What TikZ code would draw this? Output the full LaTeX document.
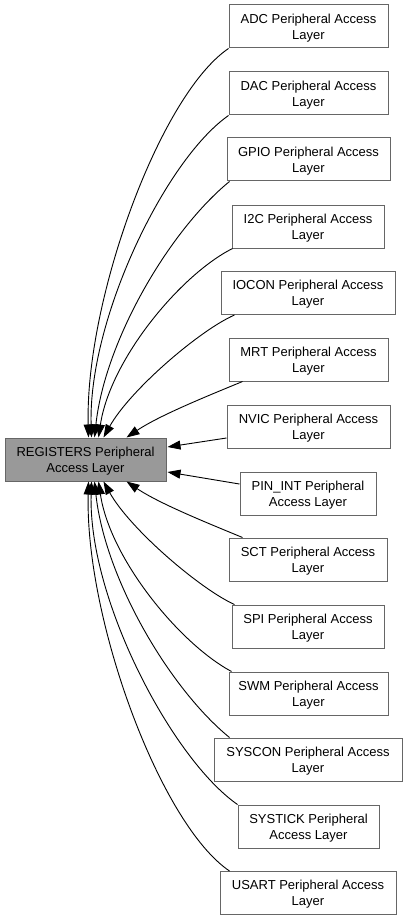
\documentclass[tikz,border=0pt]{standalone}
\usepackage{fontspec}
\setmainfont{Liberation Sans}
\usetikzlibrary{arrows.meta}
\definecolor{boxborder}{HTML}{666666}
\definecolor{curfill}{HTML}{999999}
\begin{document}
\begin{tikzpicture}[x=1pt,y=-1pt,
  box/.style={draw=boxborder, fill=white, line width=1pt, align=center, inner sep=0pt,
    minimum height=43pt, text depth=0pt, font=\fontsize{13}{16}\selectfont},
  cur/.style={box, fill=curfill},
  edge/.style={draw=black, line width=0.9pt, -{Triangle[length=13pt,width=9pt]}}]
\useasboundingbox (0,0) rectangle (407,920);

\node[cur, minimum width=161pt] (reg) at (85.5,459.5) {REGISTERS Peripheral\\Access Layer};

\node[box, minimum width=159pt] (adc)     at (308.5,26.5)  {ADC Peripheral Access\\Layer};
\node[box, minimum width=159pt] (dac)     at (308.5,93.5)  {DAC Peripheral Access\\Layer};
\node[box, minimum width=163pt] (gpio)    at (308.5,159.5) {GPIO Peripheral Access\\Layer};
\node[box, minimum width=152pt] (i2c)     at (308,226.5)   {I2C Peripheral Access\\Layer};
\node[box, minimum width=174pt] (iocon)   at (308,293)     {IOCON Peripheral Access\\Layer};
\node[box, minimum width=159pt] (mrt)     at (308.5,359.5) {MRT Peripheral Access\\Layer};
\node[box, minimum width=163pt] (nvic)    at (308.5,426.5) {NVIC Peripheral Access\\Layer};
\node[box, minimum width=136pt] (pinint)  at (308,493.5)   {PIN\_INT Peripheral\\Access Layer};
\node[box, minimum width=158pt] (sct)     at (308,559.5)   {SCT Peripheral Access\\Layer};
\node[box, minimum width=152pt] (spi)     at (308,626.5)   {SPI Peripheral Access\\Layer};
\node[box, minimum width=159pt] (swm)     at (308.5,693.5) {SWM Peripheral Access\\Layer};
\node[box, minimum width=188pt] (syscon)  at (308,759.5)   {SYSCON Peripheral Access\\Layer};
\node[box, minimum width=141pt] (systick) at (308.5,826.5) {SYSTICK Peripheral\\Access Layer};
\node[box, minimum width=176pt] (usart)   at (308,893)     {USART Peripheral Access\\Layer};

% upper edges
\draw[edge] (adc.south west) .. controls (160,95) and (85,300) .. ([xshift=84pt]reg.north west);
\draw[edge] (dac.south west) .. controls (165,160) and (88,320) .. ([xshift=87pt]reg.north west);
\draw[edge] ([xshift=3pt]gpio.south west) .. controls (170,230) and (105,340) .. ([xshift=90pt]reg.north west);
\draw[edge] ([xshift=1pt]i2c.south west) .. controls (180,275) and (110,360) .. ([xshift=94pt]reg.north west);
\draw[edge] ([xshift=14pt]iocon.south west) .. controls (200,330) and (130,390) .. ([xshift=99pt]reg.north west);
\draw[edge] ([xshift=14pt]mrt.south west) .. controls (210,395) and (160,415) .. ([xshift=122pt]reg.north west);
\draw[edge] ([yshift=-11.5pt]nvic.west) -- ([yshift=12.5pt,xshift=1pt]reg.east);
\draw[edge] ([yshift=9.5pt]pinint.west) -- ([yshift=-12.5pt,xshift=1pt]reg.east);
% lower edges
\draw[edge] ([xshift=14pt]sct.north west) .. controls (210,524) and (160,504) .. ([xshift=122pt]reg.south west);
\draw[edge] ([xshift=3pt]spi.north west) .. controls (200,589) and (130,529) .. ([xshift=99pt]reg.south west);
\draw[edge] ([xshift=3pt]swm.north west) .. controls (180,644) and (110,559) .. ([xshift=94pt]reg.south west);
\draw[edge] ([xshift=16pt]syscon.north west) .. controls (170,689) and (105,579) .. ([xshift=90pt]reg.south west);
\draw[edge] (systick.north west) .. controls (172,759) and (88,599) .. ([xshift=87pt]reg.south west);
\draw[edge] ([xshift=10pt]usart.north west) .. controls (160,824) and (85,619) .. ([xshift=84pt]reg.south west);
\end{tikzpicture}
\end{document}
